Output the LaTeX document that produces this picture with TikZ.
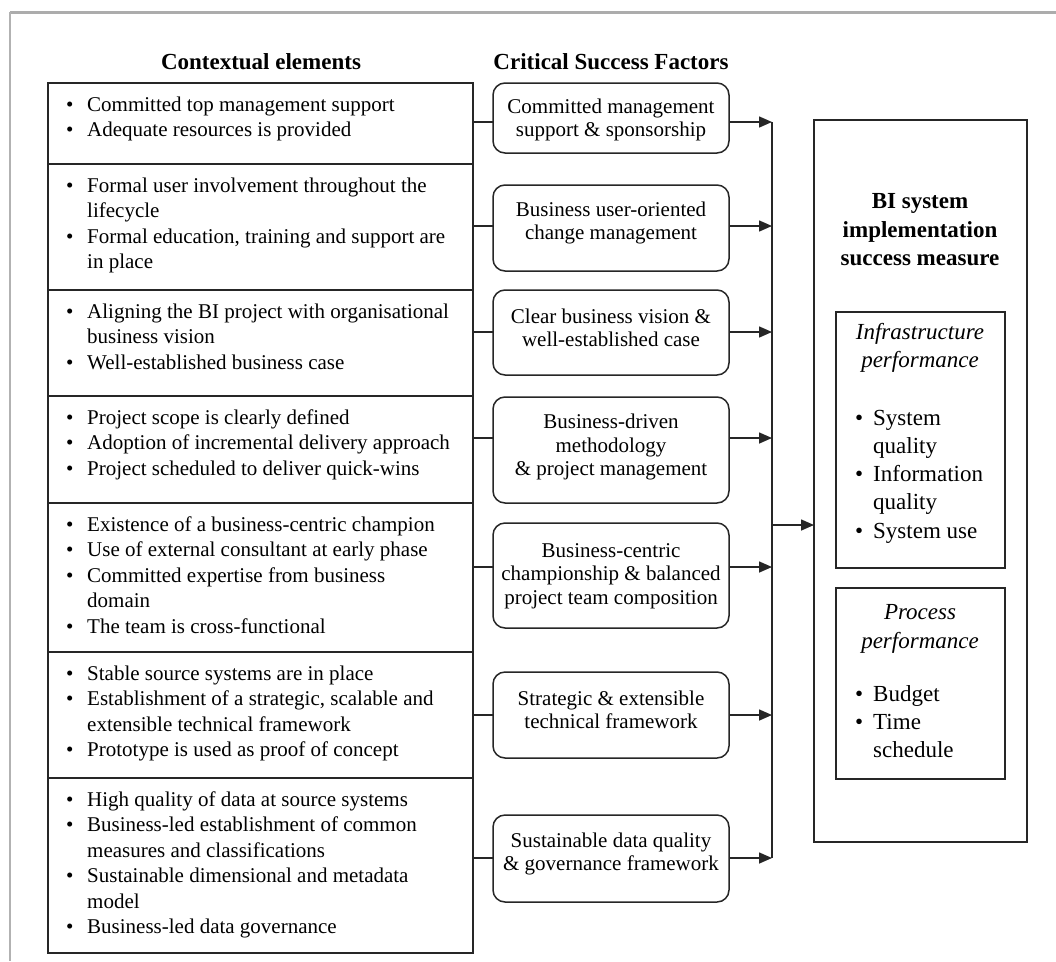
\documentclass[tikz,border=0pt]{standalone}
\usepackage{fontspec}
\setmainfont{Liberation Serif}
\usetikzlibrary{arrows.meta,fit}
\newcommand{\bulx}{\makebox[21pt][l]{\textbullet}}
\newcommand{\contx}{\hspace*{21pt}}
\newcommand{\bulr}{\makebox[18pt][l]{\textbullet}}
\newcommand{\contr}{\hspace*{18pt}}
\begin{document}
\begin{tikzpicture}[x=1pt,y=-1pt,
 box/.style={draw=black!85,line width=1.5pt,rectangle,inner sep=0pt,outer sep=0pt},
 csf/.style={draw=black!85,line width=1.5pt,rounded corners=12pt,inner sep=0pt,outer sep=0pt},
 ltext/.style={anchor=north west,inner sep=0pt,align=left,font=\fontsize{21}{25.5}\selectfont},
 ctext/.style={inner sep=0pt,align=center,font=\fontsize{21}{23.5}\selectfont},
 hdr/.style={font=\fontsize{23}{27}\selectfont\bfseries,inner sep=0pt},
 rtitle/.style={inner sep=0pt,align=center,font=\fontsize{23}{28.5}\selectfont\bfseries},
 ititle/.style={inner sep=0pt,align=center,font=\fontsize{23}{28.5}\selectfont\itshape},
 rtext/.style={anchor=north west,inner sep=0pt,align=left,font=\fontsize{23}{28.3}\selectfont},
 conn/.style={line width=1.5pt,draw=black!85},
 arr/.style={conn,-{Triangle[length=13pt,width=11pt]}},
]
\useasboundingbox (0,0) rectangle (1056,961);
\fill[white] (0,0) rectangle (1056,961);
% outer frame
\draw[gray!65,line width=3pt] (10,12) -- (1056,12);
\draw[gray!60,line width=1.5pt] (10,12) -- (10,961);

% headers
\node[hdr] (h1) at (261,62) {Contextual elements};
\node[hdr] (h2) at (611,62) {Critical Success Factors};

% left boxes
\node[box,fit={(48,83) (473,164)}] (L1) {};
\node[box,fit={(48,164) (473,290)}] (L2) {};
\node[box,fit={(48,290) (473,396)}] (L3) {};
\node[box,fit={(48,396) (473,503)}] (L4) {};
\node[box,fit={(48,503) (473,652)}] (L5) {};
\node[box,fit={(48,652) (473,778)}] (L6) {};
\node[box,fit={(48,778) (473,953)}] (L7) {};

\node[ltext] (L1t) at (66,93) {\strut\bulx Committed top management support\\
\bulx Adequate resources is provided};
\node[ltext] (L2t) at (66,174) {\strut\bulx Formal user involvement throughout the\\
\contx lifecycle\\
\bulx Formal education, training and support are\\
\contx in place};
\node[ltext] (L3t) at (66,300) {\strut\bulx Aligning the BI project with organisational\\
\contx business vision\\
\bulx Well-established business case};
\node[ltext] (L4t) at (66,406) {\strut\bulx Project scope is clearly defined\\
\bulx Adoption of incremental delivery approach\\
\bulx Project scheduled to deliver quick-wins};
\node[ltext] (L5t) at (66,513) {\strut\bulx Existence of a business-centric champion\\
\bulx Use of external consultant at early phase\\
\bulx Committed expertise from business\\
\contx domain\\
\bulx The team is cross-functional};
\node[ltext] (L6t) at (66,662) {\strut\bulx Stable source systems are in place\\
\bulx Establishment of a strategic, scalable and\\
\contx extensible technical framework\\
\bulx Prototype is used as proof of concept};
\node[ltext] (L7t) at (66,788) {\strut\bulx High quality of data at source systems\\
\bulx Business-led establishment of common\\
\contx measures and classifications\\
\bulx Sustainable dimensional and metadata\\
\contx model\\
\bulx Business-led data governance};

% CSF boxes
\node[csf,fit={(493,83) (729,153)}] (C1) {};
\node[csf,fit={(493,185) (729,271)}] (C2) {};
\node[csf,fit={(493,290) (729,375)}] (C3) {};
\node[csf,fit={(493,397) (729,503)}] (C4) {};
\node[csf,fit={(493,523) (729,628)}] (C5) {};
\node[csf,fit={(493,672) (729,758)}] (C6) {};
\node[csf,fit={(493,815) (729,902)}] (C7) {};

\node[ctext] (C1t) at (611,120) {Committed management\\support \& sponsorship};
\node[ctext] (C2t) at (611,223) {Business user-oriented\\change management};
\node[ctext] (C3t) at (611,328) {Clear business vision \&\\well-established case};
\node[ctext] (C4t) at (611,447) {Business-driven\\methodology\\\& project management};
\node[ctext] (C5t) at (611,576) {Business-centric\\championship \& balanced\\project team composition};
\node[ctext] (C6t) at (611,710) {Strategic \& extensible\\technical framework};
\node[ctext] (C7t) at (611,854) {Sustainable data quality\\\& governance framework};

% big box
\node[box,fit={(814,120) (1027,842)}] (B) {};
\node[rtitle] (Bt) at (920,230) {BI system\\implementation\\success measure};
\node[box,fit={(836,312) (1005,568)}] (I1) {};
\node[ititle] (I1t) at (920,348) {Infrastructure\\performance};
\node[rtext] (I1b) at (855,405) {\strut\bulr System\\
\contr quality\\
\bulr Information\\
\contr quality\\
\bulr System use};
\node[box,fit={(836,588) (1005,779)}] (I2) {};
\node[ititle] (I2t) at (920,629) {Process\\performance};
\node[rtext] (I2b) at (855,681) {\strut\bulr Budget\\
\bulr Time\\
\contr schedule};

% connectors
\coordinate (bus) at (772,0);
\foreach \i/\yy in {1/122,2/226,3/332,4/438,5/567,6/715,7/858}{
  \draw[conn] (L\i.east |- 0,\yy) -- (C\i.west |- 0,\yy);
  \draw[arr] (C\i.east |- 0,\yy) -- (bus |- 0,\yy);
}
\draw[conn] (bus |- 0,122) -- (bus |- 0,858);
\draw[arr] (bus |- 0,525) -- (B.west |- 0,525);
\end{tikzpicture}
\end{document}
